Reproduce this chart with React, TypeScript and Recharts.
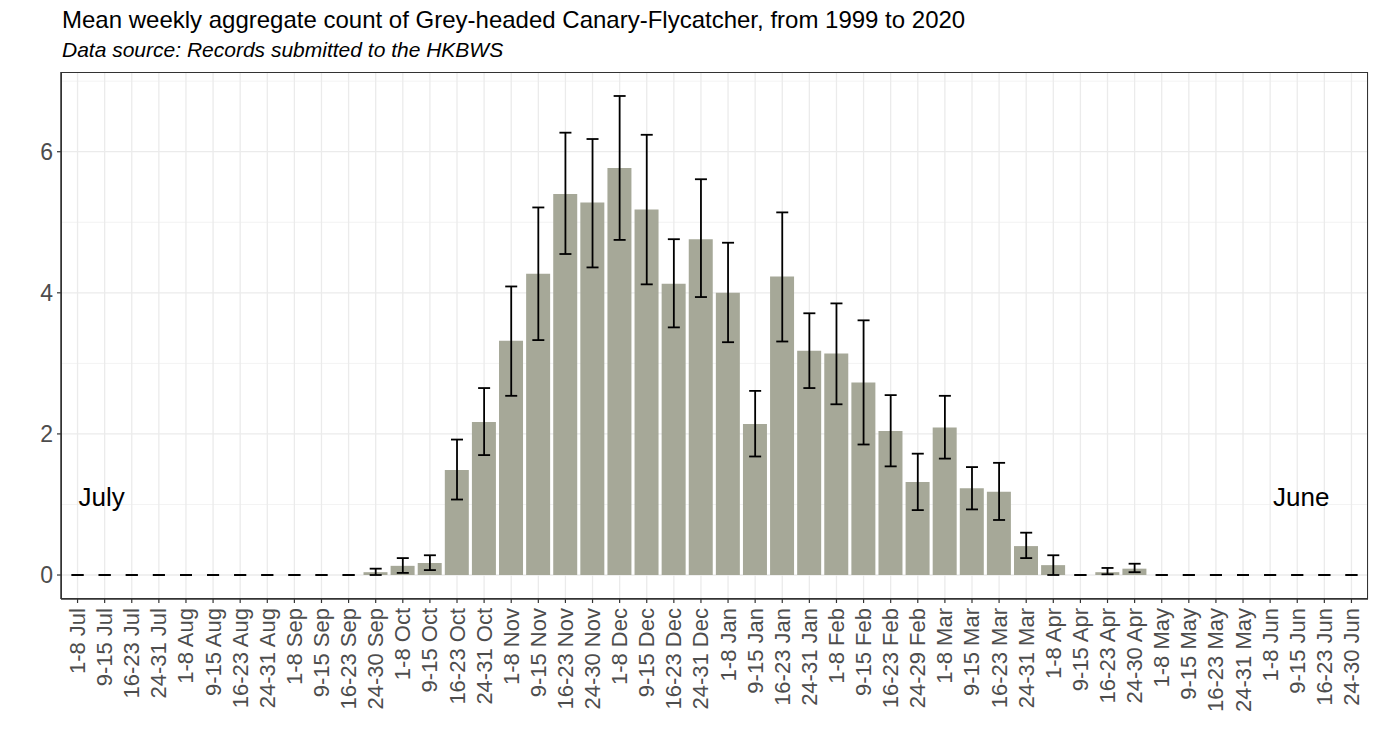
import React from "react";
import {
  Bar,
  ComposedChart,
  CartesianGrid,
  ErrorBar,
  Line,
  ReferenceDot,
  XAxis,
  YAxis,
} from "recharts";

const weeks = [
  "1-8 Jul", "9-15 Jul", "16-23 Jul", "24-31 Jul",
  "1-8 Aug", "9-15 Aug", "16-23 Aug", "24-31 Aug",
  "1-8 Sep", "9-15 Sep", "16-23 Sep", "24-30 Sep",
  "1-8 Oct", "9-15 Oct", "16-23 Oct", "24-31 Oct",
  "1-8 Nov", "9-15 Nov", "16-23 Nov", "24-30 Nov",
  "1-8 Dec", "9-15 Dec", "16-23 Dec", "24-31 Dec",
  "1-8 Jan", "9-15 Jan", "16-23 Jan", "24-31 Jan",
  "1-8 Feb", "9-15 Feb", "16-23 Feb", "24-29 Feb",
  "1-8 Mar", "9-15 Mar", "16-23 Mar", "24-31 Mar",
  "1-8 Apr", "9-15 Apr", "16-23 Apr", "24-30 Apr",
  "1-8 May", "9-15 May", "16-23 May", "24-31 May",
  "1-8 Jun", "9-15 Jun", "16-23 Jun", "24-30 Jun",
];

const meanCount = [
  0, 0, 0, 0, 0, 0, 0, 0, 0, 0, 0, 0.04,
  0.13, 0.17, 1.49, 2.17, 3.32, 4.27, 5.4, 5.28, 5.77, 5.18, 4.13, 4.76,
  4.0, 2.14, 4.23, 3.18, 3.14, 2.73, 2.04, 1.32, 2.09, 1.23, 1.18, 0.41,
  0.14, 0, 0.04, 0.09, 0, 0, 0, 0, 0, 0, 0, 0,
];

const lowerCount = [
  0, 0, 0, 0, 0, 0, 0, 0, 0, 0, 0, 0,
  0.03, 0.07, 1.07, 1.7, 2.54, 3.33, 4.55, 4.36, 4.75, 4.12, 3.51, 3.94,
  3.3, 1.68, 3.31, 2.65, 2.42, 1.85, 1.54, 0.92, 1.65, 0.93, 0.78, 0.24,
  0, 0, 0.01, 0.04, 0, 0, 0, 0, 0, 0, 0, 0,
];

const upperCount = [
  0, 0, 0, 0, 0, 0, 0, 0, 0, 0, 0, 0.09,
  0.24, 0.28, 1.92, 2.65, 4.09, 5.21, 6.27, 6.18, 6.79, 6.24, 4.76, 5.61,
  4.71, 2.61, 5.14, 3.71, 3.85, 3.61, 2.55, 1.72, 2.54, 1.53, 1.59, 0.6,
  0.28, 0, 0.1, 0.16, 0, 0, 0, 0, 0, 0, 0, 0,
];

const yTicks = [0, 2, 4, 6];
const yMinor = [1, 3, 5, 7];

const data = weeks.map((week, i) => ({
  week,
  mean: meanCount[i],
  err: [meanCount[i] - lowerCount[i], upperCount[i] - meanCount[i]],
}));

const FONT = "'Liberation Sans', Arial, sans-serif";
const W = 1379;
const H = 752;
const PLOT_LEFT = 61;
const PLOT_TOP = 72;
const PLOT_RIGHT = 11;
const X_AXIS_H = 153;

function WeekTick({ x, y, payload }: any) {
  const ty = y + 3;
  return (
    <text
      x={x}
      y={ty}
      transform={`rotate(-90 ${x} ${ty})`}
      textAnchor="end"
      dominantBaseline="central"
      fontSize={22}
      fontFamily={FONT}
      fill="#4d4d4d"
    >
      {payload.value}
    </text>
  );
}

function MonthLabel({ text, dx }: { text: string; dx: number }) {
  return (props: any) => {
    const { viewBox } = props;
    const cx = viewBox.x + viewBox.width / 2 + dx;
    const cy = viewBox.y + viewBox.height / 2;
    return (
      <text
        x={cx}
        y={cy}
        textAnchor="middle"
        dominantBaseline="central"
        fontSize={26}
        fontFamily={FONT}
        fill="#000"
      >
        {text}
      </text>
    );
  };
}

export default function App() {
  return (
    <div style={{ position: "relative", width: W, height: H, fontFamily: FONT }}>
      <style>{`body{margin:0}`}</style>
      <div
        style={{
          position: "absolute",
          left: 62,
          top: 8,
          fontSize: 24,
          lineHeight: "24px",
          color: "#000",
          whiteSpace: "nowrap",
        }}
      >
        Mean weekly aggregate count of Grey-headed Canary-Flycatcher, from 1999 to 2020
      </div>
      <div
        style={{
          position: "absolute",
          left: 62,
          top: 39,
          fontSize: 21,
          lineHeight: "21px",
          fontStyle: "italic",
          color: "#000",
          whiteSpace: "nowrap",
        }}
      >
        Data source: Records submitted to the HKBWS
      </div>
      <ComposedChart
        width={W}
        height={H}
        data={data}
        margin={{ top: PLOT_TOP, right: PLOT_RIGHT, bottom: 0, left: 0 }}
        barCategoryGap="5%"
        style={{ position: "absolute", left: 0, top: 0 }}
      >
        <CartesianGrid
          horizontalValues={yMinor}
          vertical={false}
          stroke="#f3f3f3"
          strokeWidth={1}
        />
        <CartesianGrid
          horizontalValues={yTicks}
          stroke="#ebebeb"
          strokeWidth={1.3}
        />
        <XAxis
          dataKey="week"
          interval={0}
          height={X_AXIS_H}
          padding={{ left: 3, right: 3 }}
          axisLine={{ stroke: "#333", strokeWidth: 1.5 }}
          tickLine={{ stroke: "#333", strokeWidth: 1.2 }}
          tickSize={4}
          tick={<WeekTick />}
        />
        <YAxis
          type="number"
          domain={[-0.34, 7.13]}
          ticks={yTicks}
          width={PLOT_LEFT}
          allowDataOverflow
          axisLine={{ stroke: "#333", strokeWidth: 1.5 }}
          tickLine={{ stroke: "#333", strokeWidth: 1.2 }}
          tickSize={4}
          tickMargin={4}
          tick={{ fontSize: 23, fill: "#4d4d4d", fontFamily: FONT }}
        />
        <Bar dataKey="mean" fill="#a6a898" isAnimationActive={false} />
        <Line
          dataKey="mean"
          stroke="none"
          dot={false}
          activeDot={false}
          legendType="none"
          isAnimationActive={false}
        >
          <ErrorBar
            dataKey="err"
            direction="y"
            width={6}
            stroke="#000"
            strokeWidth={1.8}
            isAnimationActive={false}
          />
        </Line>
        <ReferenceDot
          x="9-15 Jul"
          y={1.1}
          r={0}
          fill="none"
          stroke="none"
          label={MonthLabel({ text: "July", dx: -3 })}
        />
        <ReferenceDot
          x="9-15 Jun"
          y={1.1}
          r={0}
          fill="none"
          stroke="none"
          label={MonthLabel({ text: "June", dx: 4 })}
        />
      </ComposedChart>
      <div
        style={{
          position: "absolute",
          left: PLOT_LEFT,
          top: PLOT_TOP,
          width: W - PLOT_LEFT - PLOT_RIGHT,
          height: H - PLOT_TOP - X_AXIS_H,
          border: "1.5px solid #333",
          boxSizing: "border-box",
          pointerEvents: "none",
        }}
      />
    </div>
  );
}
